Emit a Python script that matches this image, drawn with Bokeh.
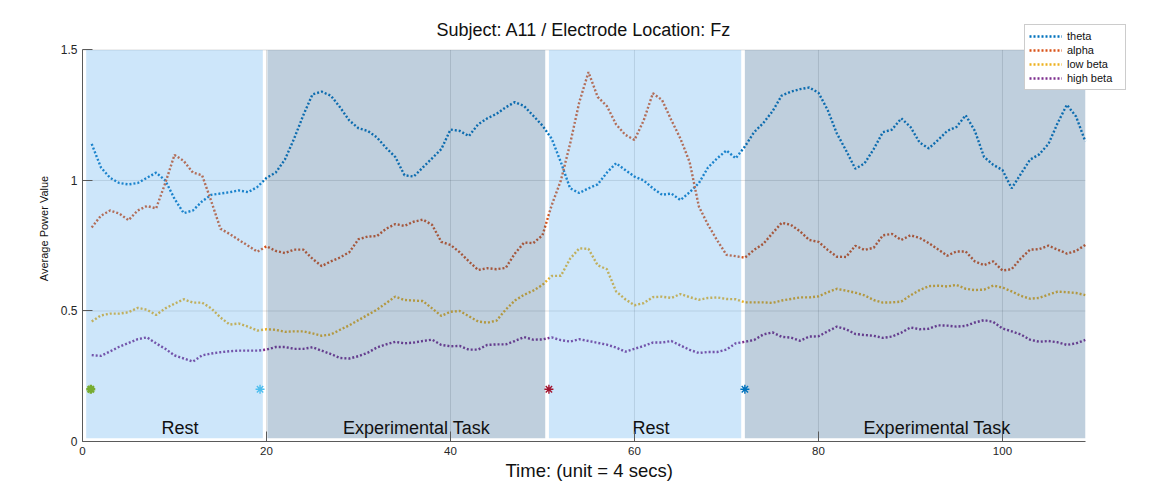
from bokeh.plotting import figure
from bokeh.models import (ColumnDataSource, Range1d, Legend, LegendItem,
                          FixedTicker, Label, Title)
from bokeh.core.properties import value
from bokeh.embed import file_html
from bokeh.resources import INLINE

# ---------------- data ----------------
time = list(range(1, 110))

theta = [1.14, 1.05, 1.01, 0.99, 0.985, 0.99, 1.01, 1.03, 1.0, 0.93,
         0.875, 0.885, 0.92, 0.945, 0.95, 0.955, 0.962, 0.955, 0.975, 1.01,
         1.03, 1.08, 1.16, 1.25, 1.33, 1.34, 1.325, 1.28, 1.23, 1.2,
         1.19, 1.165, 1.125, 1.09, 1.02, 1.015, 1.05, 1.085, 1.12, 1.195,
         1.19, 1.17, 1.215, 1.238, 1.255, 1.28, 1.30, 1.285, 1.248, 1.21,
         1.16, 1.07, 0.97, 0.952, 0.97, 0.985, 1.03, 1.066, 1.04, 1.015,
         1.0, 0.97, 0.945, 0.95, 0.925, 0.955, 0.99, 1.05, 1.085, 1.115,
         1.085, 1.13, 1.185, 1.22, 1.265, 1.325, 1.34, 1.35, 1.356, 1.336,
         1.27, 1.18, 1.115, 1.045, 1.065, 1.12, 1.185, 1.195, 1.238, 1.205,
         1.145, 1.123, 1.155, 1.19, 1.205, 1.25, 1.19, 1.09, 1.06, 1.04,
         0.97, 1.025, 1.08, 1.1, 1.14, 1.22, 1.29, 1.245, 1.15]

alpha = [0.82, 0.865, 0.885, 0.873, 0.848, 0.885, 0.902, 0.893, 0.99, 1.098,
         1.075, 1.03, 1.02, 0.92, 0.815, 0.795, 0.772, 0.75, 0.727, 0.748,
         0.73, 0.722, 0.735, 0.735, 0.7, 0.672, 0.69, 0.705, 0.725, 0.775,
         0.785, 0.787, 0.815, 0.833, 0.826, 0.842, 0.85, 0.83, 0.765, 0.753,
         0.725, 0.69, 0.657, 0.664, 0.66, 0.665, 0.72, 0.762, 0.76, 0.79,
         0.905, 1.0, 1.14, 1.3, 1.415, 1.32, 1.285, 1.215, 1.175, 1.155,
         1.23, 1.334, 1.308, 1.232, 1.16, 1.07, 0.9, 0.83, 0.77, 0.715,
         0.71, 0.704, 0.734, 0.757, 0.798, 0.838, 0.83, 0.805, 0.772, 0.765,
         0.734, 0.708, 0.707, 0.75, 0.734, 0.742, 0.79, 0.795, 0.772, 0.79,
         0.78, 0.76, 0.736, 0.712, 0.728, 0.728, 0.69, 0.676, 0.69, 0.655,
         0.66, 0.702, 0.735, 0.737, 0.75, 0.735, 0.72, 0.73, 0.753]

low_beta = [0.46, 0.483, 0.49, 0.49, 0.495, 0.512, 0.505, 0.485, 0.51, 0.528,
            0.545, 0.532, 0.532, 0.51, 0.475, 0.448, 0.452, 0.44, 0.425, 0.43,
            0.428, 0.42, 0.422, 0.422, 0.414, 0.405, 0.41, 0.428, 0.445, 0.465,
            0.485, 0.505, 0.53, 0.555, 0.542, 0.54, 0.538, 0.51, 0.481, 0.497,
            0.5, 0.48, 0.46, 0.455, 0.463, 0.505, 0.54, 0.562, 0.578, 0.6,
            0.634, 0.635, 0.7, 0.74, 0.738, 0.675, 0.66, 0.575, 0.545, 0.522,
            0.53, 0.553, 0.555, 0.55, 0.565, 0.553, 0.543, 0.55, 0.552, 0.546,
            0.545, 0.533, 0.533, 0.533, 0.531, 0.54, 0.546, 0.552, 0.552, 0.556,
            0.572, 0.585, 0.578, 0.57, 0.56, 0.542, 0.532, 0.533, 0.536, 0.56,
            0.58, 0.595, 0.597, 0.594, 0.6, 0.585, 0.58, 0.582, 0.597, 0.59,
            0.575, 0.558, 0.547, 0.55, 0.563, 0.574, 0.572, 0.569, 0.561]

high_beta = [0.331, 0.328, 0.345, 0.363, 0.377, 0.392, 0.399, 0.376, 0.355, 0.33,
             0.318, 0.306, 0.33, 0.337, 0.342, 0.346, 0.348, 0.348, 0.348, 0.352,
             0.362, 0.362, 0.355, 0.355, 0.361, 0.348, 0.335, 0.32, 0.318, 0.327,
             0.34, 0.36, 0.372, 0.382, 0.376, 0.379, 0.385, 0.39, 0.37, 0.365,
             0.366, 0.352, 0.352, 0.37, 0.372, 0.372, 0.385, 0.4, 0.39, 0.391,
             0.399, 0.388, 0.383, 0.392, 0.385, 0.378, 0.371, 0.36, 0.344, 0.355,
             0.366, 0.379, 0.379, 0.385, 0.368, 0.351, 0.339, 0.343, 0.343, 0.352,
             0.376, 0.382, 0.389, 0.41, 0.418, 0.401, 0.398, 0.386, 0.402, 0.403,
             0.422, 0.44, 0.43, 0.412, 0.408, 0.405, 0.397, 0.402, 0.417, 0.437,
             0.43, 0.432, 0.445, 0.444, 0.44, 0.443, 0.456, 0.465, 0.458, 0.433,
             0.422, 0.41, 0.39, 0.382, 0.385, 0.38, 0.37, 0.376, 0.389]

band_names = ["theta", "alpha", "low beta", "high beta"]
band_colors = ["#0072BD", "#D95319", "#EDB120", "#7E2F8E"]

# task phases (time units)
phase_names = ["Rest", "Experimental Task", "Rest", "Experimental Task"]
phase_start = [0.4, 20.1, 50.7, 72.0]
phase_end = [19.6, 50.3, 71.6, 109.0]
phase_colors = ["#58ACEE", "#2A5F8E", "#58ACEE", "#2A5F8E"]
phase_label_x = [10.6, 36.3, 61.8, 92.9]

# event markers
event_time = [0.9, 19.3, 50.7, 72.0]
event_level = [0.2, 0.2, 0.2, 0.2]
event_colors = ["#77AC30", "#4DBEEE", "#A2142F", "#0072BD"]
event_widths = [2.4, 1.4, 1.4, 1.4]

x_ticks = [0, 20, 40, 60, 80, 100]
y_ticks = [0, 0.5, 1, 1.5]
x_limits = (0, 109)
y_limits = (0, 1.5)

TITLE = "Subject: A11 / Electrode Location: Fz"
X_LABEL = "Time: (unit = 4 secs)"
Y_LABEL = "Average Power Value"
FONT = "Liberation Sans"
INK = "#262626"

# The frame reaches a little past the axes limits so that the title and
# the legend, which sits in the upper right corner outside the axes,
# are drawn inside it and not clipped.
p = figure(width=1151, height=482, output_backend="svg", toolbar_location=None,
           x_range=Range1d(0, 113.7), y_range=Range1d(0, 1.632),
           min_border_left=82, min_border_right=23,
           min_border_top=15, min_border_bottom=41)

p.background_fill_color = "white"
p.border_fill_color = "white"
p.outline_line_color = None
p.title.text = ""

# axes
for ax in (p.xaxis[0], p.yaxis[0]):
    ax.axis_line_color = "#5a5a5a"
    ax.axis_line_width = 1
    ax.major_tick_line_color = "#5a5a5a"
    ax.major_tick_in = 10
    ax.major_tick_out = 0
    ax.minor_tick_line_color = None
    ax.major_label_text_font = FONT
    ax.major_label_text_color = INK
    ax.axis_label_text_font = FONT
    ax.axis_label_text_font_style = "normal"
    ax.axis_label_text_color = "#111111"

p.xaxis.bounds = x_limits
p.yaxis.bounds = y_limits
p.xaxis.ticker = FixedTicker(ticks=x_ticks)
p.yaxis.ticker = FixedTicker(ticks=y_ticks)
p.yaxis.major_label_overrides = {0: "0", 0.5: "0.5", 1: "1", 1.5: "1.5"}
p.xaxis.major_label_text_font_size = "11.5px"
p.xaxis.major_label_standoff = 5
p.yaxis.axis_label = Y_LABEL
p.yaxis.axis_label_text_font_size = "11px"
p.yaxis.major_label_text_font_size = "12px"
p.yaxis.major_label_standoff = 5
p.yaxis.axis_label_standoff = 8

# x label centred under the axes (not under the wider frame)
p.add_layout(Title(text=X_LABEL, align="left", offset=423,
                   text_font=FONT, text_font_size="18.5px",
                   text_font_style="normal", text_color="#111111",
                   standoff=0), "below")

# grid confined to the axes limits
p.grid.visible = False
p.segment(x0=x_ticks, x1=x_ticks, y0=y_limits[0], y1=y_limits[1],
          line_color="#262626", line_alpha=0.15, line_width=1)
p.segment(x0=x_limits[0], x1=x_limits[1], y0=y_ticks, y1=y_ticks,
          line_color="#262626", line_alpha=0.15, line_width=1)

# power traces (dotted)
renderers = []
for name, vals, col in zip(band_names, [theta, alpha, low_beta, high_beta], band_colors):
    src = ColumnDataSource(dict(t=time, v=vals))
    r = p.line("t", "v", source=src, line_color=col, line_width=2.4,
               line_dash="2 2", line_cap="butt")
    renderers.append((name, r))

# translucent phase shading on top of the traces
phase_src = ColumnDataSource(dict(left=phase_start, right=phase_end,
                                  color=phase_colors, name=phase_names,
                                  lx=phase_label_x))
p.quad(left="left", right="right", bottom=0.012, top=y_limits[1], source=phase_src,
       fill_color="color", fill_alpha=0.3, line_color=None)

# event markers
ev_src = ColumnDataSource(dict(t=event_time, v=event_level, c=event_colors,
                               w=event_widths))
p.scatter("t", "v", source=ev_src, marker="asterisk", size=9,
          line_color="c", line_width="w")

# phase labels
p.text(x="lx", y=0.053, text="name", source=phase_src,
       text_align="center", text_baseline="alphabetic",
       text_font=value(FONT), text_font_size="18px", text_color="#111111")

# title centred over the axes
p.add_layout(Label(x=sum(x_limits) / 2, y=1.577, text=TITLE,
                   text_align="center", text_baseline="middle",
                   text_font=FONT, text_font_size="18px",
                   text_color="#111111"))

# legend
legend = Legend(items=[LegendItem(label=n, renderers=[r]) for n, r in renderers],
                location=(942, 351), orientation="vertical",
                label_text_font=FONT, label_text_font_size="11px",
                label_text_color="#111111",
                glyph_width=33, glyph_height=14, label_height=14,
                label_width=54, label_standoff=5, spacing=0, padding=4,
                margin=0, border_line_color="#9a9a9a", border_line_width=1,
                background_fill_color="white", background_fill_alpha=1.0)
p.add_layout(legend, "center")

open("out.html", "w").write(file_html(p, INLINE))
